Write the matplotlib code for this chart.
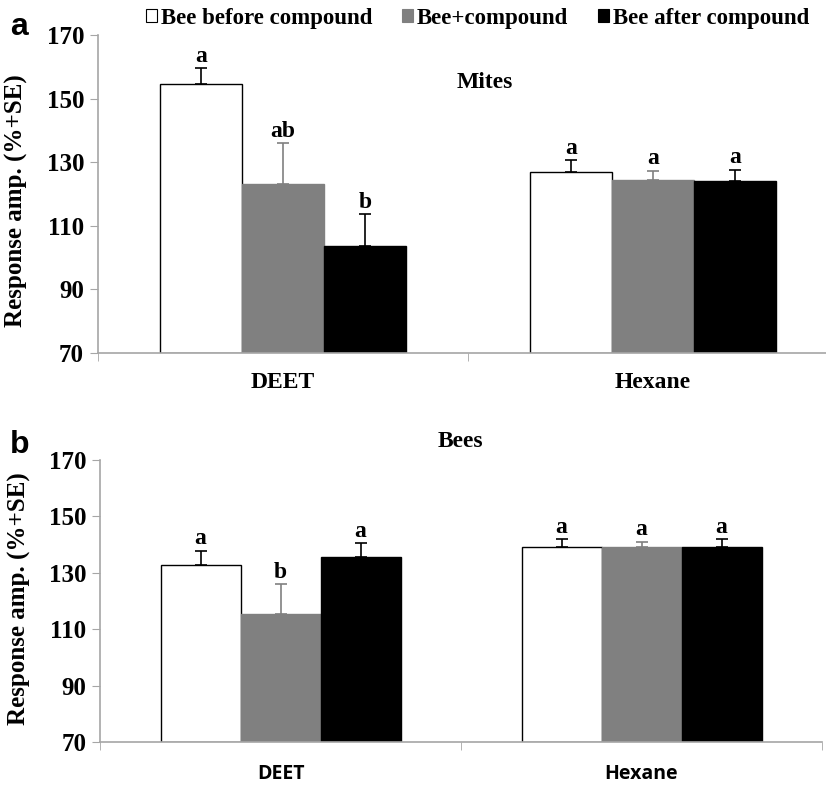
import matplotlib.pyplot as plt
import numpy as np
from matplotlib.patches import Patch

groups = ["DEET", "Hexane"]
series = ["Bee before compound", "Bee+compound", "Bee after compound"]

# panel a - mites
mites_before = [154.5, 127.0]
mites_plus = [123.3, 124.4]
mites_after = [103.6, 124.1]
mites_before_se = [5.0, 3.7]
mites_plus_se = [12.6, 2.9]
mites_after_se = [10.1, 3.6]
mites_letters = [["a", "a"], ["ab", "a"], ["b", "a"]]

# panel b - bees
bees_before = [132.6, 139.3]
bees_plus = [115.3, 139.1]
bees_after = [135.6, 139.3]
bees_before_se = [5.3, 2.7]
bees_plus_se = [10.6, 1.9]
bees_after_se = [4.9, 2.7]
bees_letters = [["a", "a"], ["b", "a"], ["a", "a"]]

colors = ["white", "#808080", "black"]
edges = ["black", "#808080", "black"]
err_colors = ["black", "#808080", "black"]

serif = "Liberation Serif"
axis_gray = "#a6a6a6"


def draw_panel(ax, means, ses, letters, xlab_font, xlab_size, xlab_pad):
    x = np.arange(len(groups))
    w = 0.2216
    for i in range(3):
        pos = x + (i - 1) * w
        ax.bar(pos, np.array(means[i]) - 70, w, bottom=70, color=colors[i],
               edgecolor=edges[i], linewidth=1.0, zorder=2)
        ax.errorbar(pos, means[i], yerr=[np.zeros(len(x)), ses[i]], fmt="none",
                    ecolor=err_colors[i], elinewidth=1.2, capsize=4, capthick=1.2, zorder=3)
        for j in range(len(x)):
            ax.annotate(letters[i][j], (pos[j], means[i][j] + ses[i][j]),
                        xytext=(0, 1), textcoords="offset points", ha="center", va="bottom",
                        fontsize=17, fontweight="bold", family=serif)
    ax.set_ylim(70, 170)
    ax.set_yticks(np.arange(70, 171, 20))
    ax.set_xlim(-0.5, 1.5)
    ax.set_xticks(x)
    ax.set_xticklabels(groups, fontsize=xlab_size, fontweight="bold", family=xlab_font)
    ax.set_xticks([-0.5, 0.5, 1.5], minor=True)
    ax.tick_params(axis="x", which="major", length=0, pad=xlab_pad)
    ax.tick_params(axis="x", which="minor", length=6, color=axis_gray, direction="out")
    ax.tick_params(axis="y", length=6, color=axis_gray, direction="out", pad=4)
    for lab in ax.get_yticklabels():
        lab.set_fontsize(18)
        lab.set_fontweight("bold")
        lab.set_family(serif)
    for s in ["top", "right"]:
        ax.spines[s].set_visible(False)
    for s in ["left", "bottom"]:
        ax.spines[s].set_color(axis_gray)
        ax.spines[s].set_linewidth(1.2)
    ax.set_ylabel("Response amp. (%+SE)", fontsize=18, fontweight="bold", family=serif)


fig = plt.figure(figsize=(8.26, 7.85), dpi=100)

ax1 = fig.add_axes([0.1186, 0.5503, 0.8959, 0.4051])
draw_panel(ax1, [mites_before, mites_plus, mites_after],
           [mites_before_se, mites_plus_se, mites_after_se], mites_letters, serif, 17, 14)
ax1.yaxis.set_label_coords(-0.094, 0.48)

ax2 = fig.add_axes([0.1211, 0.0548, 0.8741, 0.3592])
draw_panel(ax2, [bees_before, bees_plus, bees_after],
           [bees_before_se, bees_plus_se, bees_after_se], bees_letters, "Open Sans", 14, 16)
ax2.yaxis.set_label_coords(-0.096, 0.51)

fig.text(0.587, 0.8955, "Mites", ha="center", va="center", fontsize=17, fontweight="bold", family=serif)
fig.text(0.557, 0.4382, "Bees", ha="center", va="center", fontsize=17, fontweight="bold", family=serif)

fig.text(0.023, 0.966, "a", ha="center", va="center", fontsize=23, fontweight="bold", family="Liberation Sans")
fig.text(0.024, 0.433, "b", ha="center", va="center", fontsize=23, fontweight="bold", family="Liberation Sans")

handles = [Patch(facecolor=colors[i], edgecolor=edges[i], linewidth=0.8) for i in range(3)]
fig.legend(handles, series, loc="center", bbox_to_anchor=(0.578, 0.977), ncol=3, frameon=False,
           prop={"family": serif, "weight": "bold", "size": 16.5},
           handlelength=0.5, handleheight=0.5, handletextpad=0.15, columnspacing=1.3)

fig.savefig("out.png", dpi=100)
